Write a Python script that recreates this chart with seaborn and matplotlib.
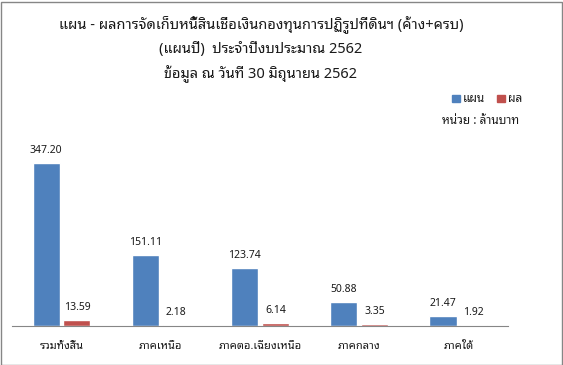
import matplotlib
matplotlib.use("Agg")
import matplotlib.pyplot as plt
from matplotlib.patches import Rectangle
import seaborn as sns
import pandas as pd

# ===== DATA =====
regions = ["รวมทั้งสิ้น", "ภาคเหนือ", "ภาคตอ.เฉียงเหนือ", "ภาคกลาง", "ภาคใต้"]
plan = [347.20, 151.11, 123.74, 50.88, 21.47]
result = [13.59, 2.18, 6.14, 3.35, 1.92]
series_names = ["แผน", "ผล"]
colors = ["#4F81BD", "#C0504D"]

title_lines = [
    "แผน - ผลการจัดเก็บหนี้สินเชื่อเงินกองทุนการปฏิรูปที่ดินฯ (ค้าง+ครบ)",
    "(แผนปี)  ประจำปีงบประมาณ 2562",
    "ข้อมูล ณ วันที่ 30 มิถุนายน 2562",
]
unit_text = "หน่วย : ล้านบาท"

df = pd.DataFrame({
    "region": regions * 2,
    "value": plan + result,
    "series": [series_names[0]] * len(regions) + [series_names[1]] * len(regions),
})

sns.set_style("white")
plt.rcParams["font.family"] = ["Noto Sans Thai Looped", "DejaVu Sans"]

fig = plt.figure(figsize=(5.63, 3.65), dpi=100)
ax = fig.add_axes([0.0213, 0.1068, 0.881, 0.515])

sns.barplot(data=df, x="region", y="value", hue="series", palette=colors,
            width=0.62, gap=0.12, saturation=1, ax=ax, legend=False)

for cont in ax.containers:
    ax.bar_label(cont, fmt="%.2f", padding=5, fontsize=7.5, color="#1a1a1a")

ax.set_ylim(0, 400)
ax.set_xlim(-0.5, len(regions) - 0.5)
ax.set_xlabel("")
ax.set_ylabel("")
ax.set_yticks([])
for s in ["top", "left", "right"]:
    ax.spines[s].set_visible(False)
ax.spines["bottom"].set_color("#868686")
ax.spines["bottom"].set_linewidth(0.8)
ax.tick_params(axis="x", length=0, pad=11, labelsize=8, labelcolor="#1a1a1a")

# title, centred over the plot area
for i, line in enumerate(title_lines):
    fig.text(261 / 563, 1 - (24 + 25 * i) / 365, line, ha="center", va="center",
             fontsize=10.5, color="#1a1a1a")

# legend (manual)
for i, (name, c) in enumerate(zip(series_names, colors)):
    x0 = (452 + 45 * i) / 563
    fig.patches.append(Rectangle((x0, 1 - 102 / 365), 8 / 563, 7 / 365,
                                 transform=fig.transFigure, color=c))
    fig.text(x0 + 11 / 563, 1 - 98 / 365, name, ha="left", va="center",
             fontsize=8.5, color="#1a1a1a")
fig.text(442 / 563, 1 - 120 / 365, unit_text, ha="left", va="center",
         fontsize=8.5, color="#1a1a1a")

# border
fig.patches.append(Rectangle((0.5 / 563, 0.5 / 365), 561 / 563, 363 / 365,
                             transform=fig.transFigure, fill=False,
                             edgecolor="#868686", linewidth=1))

fig.savefig("out.png", dpi=100)
